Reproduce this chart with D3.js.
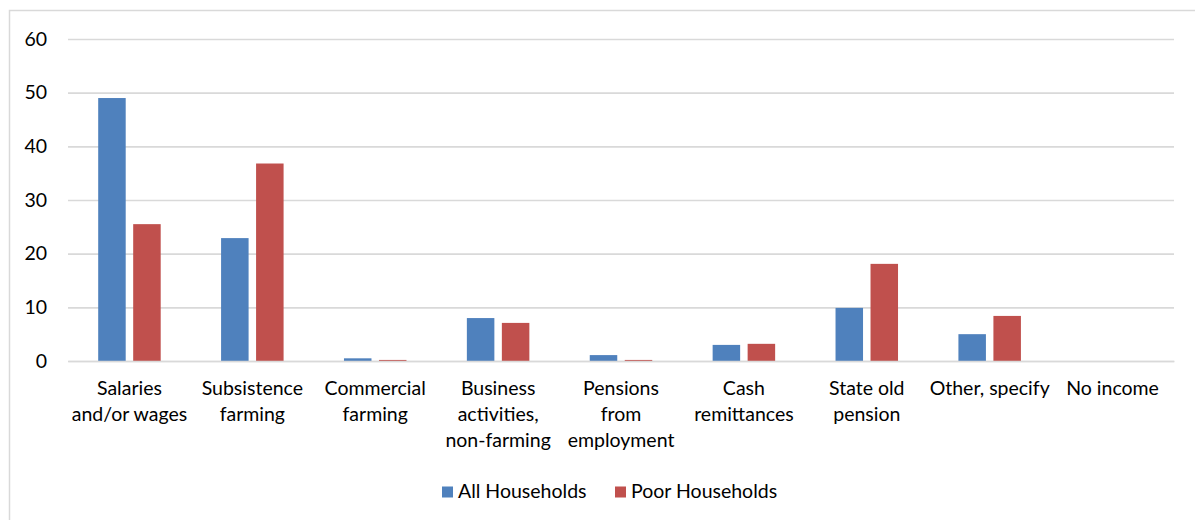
<!DOCTYPE html>
<html>
<head>
<meta charset="utf-8">
<script src="https://cdn.jsdelivr.net/npm/d3@7"></script>
<style>
  html, body { margin: 0; padding: 0; background: #fff; }
  svg { display: block; }
  text { font-family: Lato, "Open Sans", sans-serif; fill: #000; }
</style>
</head>
<body>
<svg id="chart" width="1195" height="520"></svg>
<script>
// Sources of household income (%), all vs. poor households
const categories = [
  ["Salaries", "and/or wages"],
  ["Subsistence", "farming"],
  ["Commercial", "farming"],
  ["Business", "activities,", "non-farming"],
  ["Pensions", "from", "employment"],
  ["Cash", "remittances"],
  ["State old", "pension"],
  ["Other, specify"],
  ["No income"]
];
const seriesNames = ["All Households", "Poor Households"];
const allHouseholds  = [49.0, 22.9, 0.5, 8.0, 1.1, 3.0, 9.9, 5.0, 0];
const poorHouseholds = [25.5, 36.8, 0.2, 7.1, 0.2, 3.2, 18.1, 8.4, 0];
const yTicks = [0, 10, 20, 30, 40, 50, 60];
const colors = ["#4F81BD", "#C0504D"];
const fontSize = "19.5px";

const svg = d3.select("#chart");

// outer frame
svg.append("rect")
  .attr("x", 9.5).attr("y", 10.5)
  .attr("width", 1195).attr("height", 520)
  .attr("fill", "none").attr("stroke", "#D9D9D9").attr("stroke-width", 1.5);

const plot = { left: 68, right: 1174, top: 39, bottom: 361 };

const y = d3.scaleLinear().domain([0, 60]).range([plot.bottom, plot.top]);
const keys = categories.map((c, i) => i);
const x0 = d3.scaleBand().domain(keys).range([plot.left, plot.right]);
const x1 = d3.scaleBand().domain(seriesNames).range([0, 62.5]).paddingInner(0.214);

// gridlines + value axis labels
const yAxis = d3.axisLeft(y).tickValues(yTicks)
  .tickSize(-(plot.right - plot.left)).tickPadding(21);
const gy = svg.append("g").attr("transform", `translate(${plot.left},0)`).call(yAxis);
gy.select(".domain").remove();
gy.selectAll(".tick line").attr("stroke", "#D9D9D9").attr("stroke-width", 1.6);
gy.selectAll(".tick text").style("font-size", fontSize).attr("font-family", null);

// bars
const rows = keys.map(i => ({ i, vals: [allHouseholds[i], poorHouseholds[i]] }));
const groups = svg.append("g").selectAll("g").data(rows).join("g")
  .attr("transform", d => `translate(${x0(d.i) + x0.bandwidth() / 2 - 31.25},0)`);
groups.selectAll("rect")
  .data(d => d.vals.map((v, s) => ({ v, s })))
  .join("rect")
  .attr("x", d => x1(seriesNames[d.s]))
  .attr("width", x1.bandwidth())
  .attr("y", d => y(d.v))
  .attr("height", d => y(0) - y(d.v))
  .attr("fill", d => colors[d.s]);

// category labels
const xAxis = d3.axisBottom(x0).tickSize(0).tickFormat(() => "");
const gx = svg.append("g").attr("transform", `translate(0,${plot.bottom})`).call(xAxis);
gx.select(".domain").attr("stroke", "#D9D9D9").attr("stroke-width", 1.6);
gx.selectAll(".tick").each(function (i) {
  const t = d3.select(this).append("text")
    .attr("text-anchor", "middle")
    .attr("y", 34)
    .style("font-size", fontSize);
  categories[i].forEach((line, k) => {
    t.append("tspan").attr("x", 0).attr("dy", k === 0 ? 0 : 26).text(line);
  });
});

// legend
const legend = svg.append("g");
const legendX = [442, 615];
seriesNames.forEach((name, s) => {
  legend.append("rect")
    .attr("x", legendX[s]).attr("y", 486.5)
    .attr("width", 11).attr("height", 11)
    .attr("fill", colors[s]);
  legend.append("text")
    .attr("x", legendX[s] + 16).attr("y", 498)
    .style("font-size", fontSize)
    .text(name);
});
</script>
</body>
</html>
